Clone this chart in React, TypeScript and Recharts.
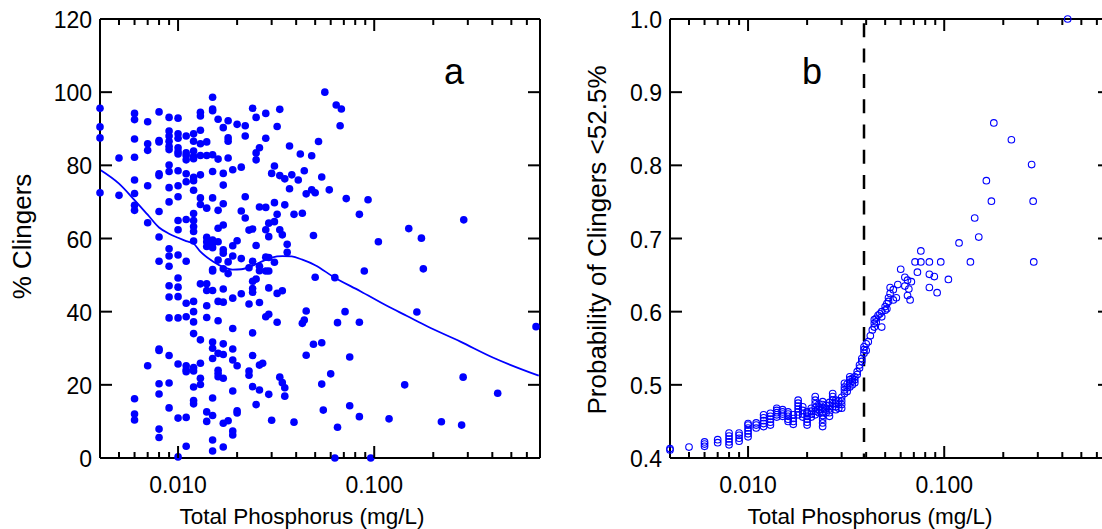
import { ComposedChart, Label, Line, ReferenceLine, Scatter, XAxis, YAxis } from "recharts";

const FONT = "'Liberation Sans', Arial, Helvetica, sans-serif";
const BLUE = "#0000ff";

// panel a: % clingers per site, grouped by measured total phosphorus (mg/L)
const clingersByTP: [number, number[]][] = [
  [0.004, [95.6, 90.5, 87.5, 72.5]],
  [0.005, [82, 71.8]],
  [0.006, [94.2, 92.5, 87.2, 82.2, 76, 72.3, 69.1, 67.7, 16.2, 12, 10.4]],
  [0.007, [91.9, 85.9, 84.1, 74.4, 64.3, 25.2]],
  [0.008, [94.6, 86.8, 86.4, 77.7, 77.2, 67.4, 60.4, 53.8, 29.8, 29.4, 20.3, 17.5, 7.9, 5.6]],
  [0.009, [93.1, 89.4, 88, 86.6, 85.2, 84.3, 80.1, 78.3, 73.9, 70, 57.2, 55.2, 52.4, 47.1, 44, 38.3, 28, 20.5, 13.7]],
  [0.01, [92.9, 88.6, 87.4, 84.8, 83.7, 83.1, 78.5, 74.4, 71.4, 64.9, 62.4, 55.5, 49.2, 46.7, 44.1, 38.3, 25.7, 10.9, 0.3]],
  [0.011, [88, 83.4, 82.7, 81.5, 77.7, 75.5, 65.2, 53.8, 42.3, 38.6, 25.2, 24.1, 23.6, 11.1, 3.2]],
  [0.012, [88.6, 86.6, 83.9, 82.5, 81.8, 76.7, 75.8, 73.2, 66.8, 64.9, 63.3, 61.9, 59.3, 42.8, 40, 37.2, 34, 24.7, 23.8, 19.4, 15.7, 14.8]],
  [0.013, [94.5, 93.5, 89.6, 85.9, 82.7, 77.4, 71.1, 69.3, 47.6, 32.3, 25.9, 21.8, 20.1]],
  [0.014, [86.4, 82.7, 68.3, 60.3, 59.1, 57.8, 47.6, 45.8, 41.6, 38.4, 12.6, 10]],
  [0.015, [98.6, 95.4, 94.9, 82.9, 78.3, 71.1, 59.6, 58.7, 57.5, 51.5, 51.1, 45.8, 31.7, 30, 27.2, 16.4, 11.6, 4.9, 1.9]],
  [0.016, [92.6, 81.7, 67.7, 62.8, 59.1, 54.1, 42.8, 37.5, 28.6, 24, 23.1, 22.2]],
  [0.017, [90.3, 77.8, 74.6, 69.5, 63.7, 56.9, 56, 51.7, 46.2, 42.6, 31.2, 28.3, 21.8, 9.5, 3]],
  [0.018, [92.2, 87.5, 86.6, 82, 53.6, 50.4, 10.2]],
  [0.019, [78.8, 58, 55.2, 43.7, 35.4, 29.8, 26.8, 18.3, 7.4, 6.3]],
  [0.02, [91.2, 59.4, 25.2, 12.9, 12.3]],
  [0.021, [79.5, 67.5, 54.5, 44.9]],
  [0.022, [90.8, 88, 71.4, 65.6]],
  [0.023, [62.3, 52, 42.1, 23.8, 22.6]],
  [0.024, [95.6, 62.6, 53.8, 48.3, 46.3, 45.3, 34.2, 28, 19.5]],
  [0.025, [93.1, 83.4, 81.5, 58.1, 48.9, 14.6]],
  [0.026, [84.8, 68.6, 52.4, 51.2, 42.5, 25.4, 18.6]],
  [0.027, [25.9]],
  [0.028, [94.2, 87.4, 68.5, 62.4, 54.9, 51.1, 38.6]],
  [0.029, [64.2, 60.5, 54.8, 51.1, 46.5, 39.3, 17.4]],
  [0.03, [77.8, 10.3]],
  [0.031, [79.8, 69.8, 64.6, 53.5]],
  [0.032, [90.6, 66.6, 45, 37.1]],
  [0.033, [95.3, 77.2, 62.4, 22.1]],
  [0.034, [61, 45.7, 20.6]],
  [0.035, [76.3, 69.2, 19.2, 16.9]],
  [0.036, [58.4, 56.2]],
  [0.037, [85.3, 73.6]],
  [0.038, [77.4]],
  [0.039, [66.6, 9.8]],
  [0.041, [76]],
  [0.042, [83.1]],
  [0.043, [66.9, 36.8]],
  [0.044, [78.5, 37.7]],
  [0.045, [72.2, 40.2, 28.1]],
  [0.048, [82.6, 73.3]],
  [0.049, [60.8, 31.1]],
  [0.05, [72.5, 49.4]],
  [0.052, [86.5]],
  [0.054, [76.8, 31.5, 20.2]],
  [0.055, [13.1]],
  [0.056, [100]],
  [0.059, [73.3]],
  [0.06, [23]],
  [0.063, [49.3, 0]],
  [0.064, [96.5]],
  [0.065, [37, 8.4]],
  [0.067, [90.8]],
  [0.068, [95.4]],
  [0.071, [40]],
  [0.072, [70.9]],
  [0.075, [27.6, 14.3]],
  [0.084, [66.6, 37.1, 11.3]],
  [0.089, [51.1]],
  [0.093, [70.6]],
  [0.096, [0]],
  [0.105, [59.1]],
  [0.119, [10.7]],
  [0.143, [20]],
  [0.15, [62.7]],
  [0.165, [39.9]],
  [0.174, [60.1]],
  [0.178, [51.7]],
  [0.22, [9.9]],
  [0.279, [9]],
  [0.284, [22.1]],
  [0.286, [65.1]],
  [0.426, [17.7]],
  [0.668, [35.9]],
];

// smoothed trend through panel a
const smoothTP = [0.004, 0.005, 0.006, 0.007, 0.008, 0.009, 0.01, 0.011, 0.012, 0.013, 0.015, 0.017, 0.019, 0.021, 0.024, 0.027, 0.03, 0.034, 0.038, 0.043, 0.05, 0.062, 0.085, 0.116, 0.147, 0.186, 0.275, 0.405, 0.69];
const smoothPct = [78.8, 75, 70.5, 66.5, 63, 61.3, 60.2, 59.3, 58.6, 56.4, 53.8, 52.2, 51.5, 51.6, 52.6, 53.8, 54.8, 55.2, 55.1, 54.2, 52.7, 49.5, 45.6, 41.6, 38.8, 36, 31.8, 27.4, 22.5];

// panel b: probability of clingers < 52.5%
const probByTP: [number, number[]][] = [
  [0.004, [0.411, 0.413]],
  [0.005, [0.415]],
  [0.006, [0.416, 0.419, 0.422]],
  [0.007, [0.421, 0.425]],
  [0.008, [0.418, 0.422, 0.426, 0.43, 0.434]],
  [0.009, [0.423, 0.427, 0.431, 0.434]],
  [0.01, [0.429, 0.433, 0.437, 0.441, 0.445, 0.447]],
  [0.011, [0.441, 0.445, 0.448]],
  [0.012, [0.443, 0.447, 0.451, 0.455, 0.459]],
  [0.013, [0.445, 0.449, 0.453, 0.457, 0.461]],
  [0.014, [0.456, 0.459, 0.462, 0.465, 0.468]],
  [0.015, [0.457, 0.46, 0.463, 0.466]],
  [0.016, [0.45, 0.453, 0.457, 0.46, 0.463]],
  [0.017, [0.446, 0.45, 0.454, 0.459]],
  [0.018, [0.459, 0.463, 0.467, 0.471, 0.475, 0.479]],
  [0.019, [0.456, 0.46, 0.465, 0.47]],
  [0.02, [0.445, 0.449, 0.453, 0.457, 0.461, 0.463]],
  [0.021, [0.456, 0.46, 0.464, 0.468]],
  [0.022, [0.459, 0.464, 0.469, 0.474, 0.479, 0.484]],
  [0.023, [0.462, 0.466, 0.47, 0.474]],
  [0.024, [0.443, 0.448, 0.453, 0.458, 0.463, 0.468, 0.473, 0.477]],
  [0.025, [0.462, 0.467, 0.472]],
  [0.026, [0.457, 0.462, 0.467, 0.472, 0.476]],
  [0.027, [0.47, 0.474, 0.479, 0.484, 0.488]],
  [0.028, [0.466, 0.47, 0.475, 0.479]],
  [0.029, [0.468, 0.473, 0.478]],
  [0.03, [0.468, 0.473, 0.478, 0.483]],
  [0.031, [0.488, 0.493, 0.497, 0.502]],
  [0.032, [0.491, 0.496, 0.501]],
  [0.033, [0.497, 0.502, 0.507, 0.511]],
  [0.034, [0.5, 0.505, 0.509]],
  [0.035, [0.503, 0.507, 0.511]],
  [0.036, [0.514, 0.518]],
  [0.037, [0.523, 0.527]],
  [0.038, [0.532, 0.536]],
  [0.039, [0.543, 0.548, 0.552]],
  [0.04, [0.547, 0.556]],
  [0.041, [0.559]],
  [0.042, [0.567]],
  [0.043, [0.575]],
  [0.044, [0.579, 0.584, 0.589]],
  [0.045, [0.586, 0.591]],
  [0.046, [0.595]],
  [0.047, [0.597]],
  [0.048, [0.579, 0.593, 0.6]],
  [0.05, [0.602, 0.607]],
  [0.051, [0.604, 0.611]],
  [0.052, [0.614, 0.619]],
  [0.053, [0.625, 0.633]],
  [0.055, [0.616, 0.63]],
  [0.057, [0.619]],
  [0.058, [0.637]],
  [0.06, [0.658]],
  [0.063, [0.635, 0.647]],
  [0.065, [0.622, 0.643]],
  [0.066, [0.631]],
  [0.067, [0.616]],
  [0.068, [0.641]],
  [0.071, [0.668]],
  [0.073, [0.654]],
  [0.076, [0.668, 0.683]],
  [0.084, [0.633, 0.651, 0.668]],
  [0.089, [0.648]],
  [0.092, [0.626]],
  [0.096, [0.668]],
  [0.105, [0.644]],
  [0.119, [0.694]],
  [0.136, [0.668]],
  [0.143, [0.728]],
  [0.15, [0.702]],
  [0.164, [0.779]],
  [0.174, [0.751]],
  [0.179, [0.858]],
  [0.22, [0.835]],
  [0.279, [0.801]],
  [0.284, [0.751]],
  [0.286, [0.668]],
  [0.426, [1.0]],
  [0.668, [1.0]],
];

const thresholdTP = 0.039;

const tpDomain = [0.004, 0.7];
const majorTicksX = [0.01, 0.1];
const minorTicksX = [0.005, 0.006, 0.007, 0.008, 0.009, 0.02, 0.03, 0.04, 0.05, 0.06, 0.07, 0.08, 0.09, 0.2, 0.3, 0.4, 0.5, 0.6];
const ticksX = [...minorTicksX, ...majorTicksX].sort((a, b) => a - b);
const ticksA = [0, 20, 40, 60, 80, 100, 120];
const ticksB = [0.4, 0.5, 0.6, 0.7, 0.8, 0.9, 1.0];

const pointsA = clingersByTP.flatMap(([tp, vals]) => vals.map((pct) => ({ tp, pct })));
const smoothA = smoothTP.map((tp, i) => ({ tp, pct: smoothPct[i] }));
const pointsB = probByTP.flatMap(([tp, vals]) => vals.map((p) => ({ tp, p })));

const PLOT_W = 440;
const PLOT_H = 439;

const axisStroke = { stroke: "#000", strokeWidth: 2 };
const isMajor = (v: number) => majorTicksX.some((m) => Math.abs(m - v) < 1e-9);

// The bottom axis tick renderer draws every inward tick of the frame:
// bottom + top x ticks at each tick, and (once, from the first tick) the left + right y ticks.
function makeXTick(yTicks: number[], yDomain: number[], plotLeft: number) {
  return ({ x, y, payload, index }: any) => {
    const v = Number(payload.value);
    const len = isMajor(v) ? 12 : 6;
    const top = y - PLOT_H;
    const right = plotLeft + PLOT_W;
    return (
      <g>
        <line x1={x} x2={x} y1={y} y2={y - len} stroke="#000" strokeWidth={2} />
        <line x1={x} x2={x} y1={top} y2={top + len} stroke="#000" strokeWidth={2} />
        {index === 0 &&
          yTicks.map((t) => {
            const ty = y - ((t - yDomain[0]) / (yDomain[1] - yDomain[0])) * PLOT_H;
            return (
              <g key={t}>
                <line x1={plotLeft} x2={plotLeft + 12} y1={ty} y2={ty} stroke="#000" strokeWidth={2} />
                <line x1={right} x2={right - 12} y1={ty} y2={ty} stroke="#000" strokeWidth={2} />
              </g>
            );
          })}
        {isMajor(v) && (
          <text x={x} y={y + 35} textAnchor="middle" fontSize={23} fontFamily={FONT} fill="#000">
            {v.toFixed(3)}
          </text>
        )}
      </g>
    );
  };
}

function makeYTick(decimals: number) {
  return ({ x, y, payload }: any) => (
    <text x={x - 8} y={y + 9} textAnchor="end" fontSize={23} fontFamily={FONT} fill="#000">
      {Number(payload.value).toFixed(decimals)}
    </text>
  );
}

function xTitle(text: string, dx: number) {
  return ({ viewBox }: any) => (
    <text
      x={viewBox.x + viewBox.width / 2 + dx}
      y={viewBox.y + 66}
      textAnchor="middle"
      fontSize={22.5}
      fontFamily={FONT}
      fill="#000"
    >
      {text}
    </text>
  );
}

function yTitle(text: string, baselineX: number, dy: number) {
  return ({ viewBox }: any) => {
    const cy = viewBox.y + viewBox.height / 2 + dy;
    return (
      <text
        transform={`translate(${baselineX},${cy}) rotate(-90)`}
        textAnchor="middle"
        fontSize={26}
        fontFamily={FONT}
        fill="#000"
      >
        {text}
      </text>
    );
  };
}

// box frame; axes get 1px thickness (0 is not drawn), the margins are reduced to compensate
function frameAxes(
  yTicks: number[],
  yDomain: number[],
  yKey: string,
  yDecimals: number,
  plotLeft: number,
  xLabel: any,
  yLabel: any,
) {
  return [
    <XAxis
      key="x"
      xAxisId="x"
      dataKey="tp"
      type="number"
      scale="log"
      domain={tpDomain}
      ticks={ticksX}
      interval={0}
      height={1}
      tickSize={0}
      tickMargin={0}
      axisLine={axisStroke}
      tickLine={false}
      tick={makeXTick(yTicks, yDomain, plotLeft)}
    >
      <Label content={xLabel} />
    </XAxis>,
    <XAxis key="xt" xAxisId="xt" orientation="top" type="number" domain={[0, 1]} height={1} axisLine={axisStroke} tickLine={false} tick={false} />,
    <YAxis
      key="y"
      yAxisId="y"
      dataKey={yKey}
      type="number"
      domain={yDomain}
      ticks={yTicks}
      interval={0}
      width={1}
      tickSize={0}
      tickMargin={0}
      axisLine={axisStroke}
      tickLine={false}
      tick={makeYTick(yDecimals)}
    >
      <Label content={yLabel} />
    </YAxis>,
    <YAxis key="yr" yAxisId="yr" orientation="right" type="number" domain={[0, 1]} width={1} axisLine={axisStroke} tickLine={false} tick={false} />,
  ];
}

const filledDot = (p: any) => <circle cx={p.cx} cy={p.cy} r={3.8} fill={BLUE} />;
const openDot = (p: any) => <circle cx={p.cx} cy={p.cy} r={3.3} fill="none" stroke={BLUE} strokeWidth={1.1} />;

function PanelA() {
  return (
    <ComposedChart width={560} height={529} margin={{ top: 18, right: 19, bottom: 70, left: 99 }}>
      {frameAxes(ticksA, [0, 120], "pct", 0, 100, xTitle("Total Phosphorus (mg/L)", -18), yTitle("% Clingers", 30.5, -2))}
      <Scatter data={pointsA} xAxisId="x" yAxisId="y" shape={filledDot} isAnimationActive={false} />
      <Line
        data={smoothA}
        dataKey="pct"
        xAxisId="x"
        yAxisId="y"
        type="monotone"
        stroke={BLUE}
        strokeWidth={1.8}
        dot={false}
        activeDot={false}
        isAnimationActive={false}
      />
    </ComposedChart>
  );
}

function PanelB() {
  return (
    <ComposedChart width={600} height={529} margin={{ top: 18, right: 49, bottom: 70, left: 109 }}>
      {frameAxes(ticksB, [0.4, 1.0], "p", 1, 110, xTitle("Total Phosphorus (mg/L)", -20), yTitle("Probability of Clingers <52.5%", 606 - 560, 1.5))}
      <ReferenceLine
        xAxisId="x"
        yAxisId="y"
        segment={[
          { x: thresholdTP, y: 1.0 },
          { x: thresholdTP, y: 0.4 },
        ]}
        stroke="#000"
        strokeWidth={2.5}
        strokeDasharray="14 11.3"
        strokeDashoffset={21}
      />
      <Scatter data={pointsB} xAxisId="x" yAxisId="y" shape={openDot} isAnimationActive={false} />
    </ComposedChart>
  );
}

const panelLetter = (left: number): React.CSSProperties => ({
  position: "absolute",
  left,
  top: 53.5,
  fontSize: 36,
  lineHeight: "36px",
  fontFamily: FONT,
  color: "#000",
});

export default function App() {
  return (
    <div
      style={{
        position: "absolute",
        left: 0,
        top: 0,
        width: 1102,
        height: 529,
        overflow: "hidden",
        background: "#fff",
        fontFamily: FONT,
      }}
    >
      <div style={{ position: "absolute", left: 0, top: 0 }}>
        <PanelA />
      </div>
      <div style={{ position: "absolute", left: 560, top: 0 }}>
        <PanelB />
      </div>
      <div style={panelLetter(444)}>a</div>
      <div style={panelLetter(802)}>b</div>
    </div>
  );
}
